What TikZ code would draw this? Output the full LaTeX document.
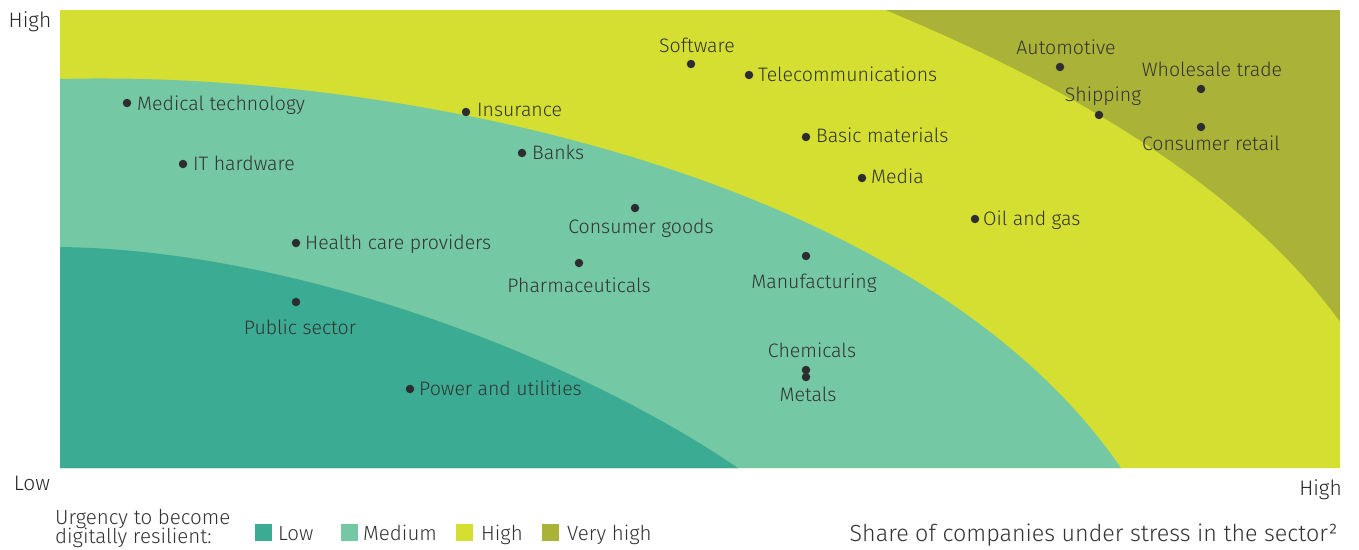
\documentclass[tikz,border=0pt]{standalone}
\usepackage{fontspec}
\setmainfont{Fira Sans Light}
\definecolor{cLow}{RGB}{59,172,147}
\definecolor{cMed}{RGB}{117,200,164}
\definecolor{cHigh}{RGB}{212,223,49}
\definecolor{cVHigh}{RGB}{170,179,56}
\definecolor{txt}{RGB}{50,50,50}
\definecolor{dotc}{RGB}{45,45,48}
\begin{document}
\begin{tikzpicture}[x=1pt,y=-1pt,
  pt/.style={circle,fill=dotc,inner sep=0pt,minimum size=8.5pt},
  lab/.style={inner sep=0pt,text=txt,font=\fontsize{19.5}{22}\selectfont},
  rlab/.style={lab,anchor=base west},
  clab/.style={lab,anchor=base},
  axlab/.style={inner sep=0pt,text=black!85,font=\fontsize{21}{24}\selectfont},
  leg/.style={inner sep=0pt,text=txt,font=\fontsize{20.5}{22}\selectfont,anchor=base west},
  sq/.style={minimum size=17pt,inner sep=0pt}]
\useasboundingbox (0,0) rectangle (1359,549);
% zones
\fill[cVHigh] (60,10) rectangle (1340,468);
\fill[cHigh] (60,468) -- (60,10) -- (885,10) .. controls (1030,70) and (1230,170) .. (1340,322) -- (1340,468) -- cycle;
\fill[cMed] (60,468) -- (60,79) .. controls (400,70) and (920,175) .. (1121,468) -- cycle;
\fill[cLow] (60,468) -- (60,247) .. controls (300,250) and (580,360) .. (738,468) -- cycle;
% points
\node[pt] (soft) at (691,64) {};
\node[clab] (softL) at (697,52) {Software};
\node[pt] (tele) at (749,75) {};
\node[rlab] (teleL) at (758,81) {Telecommunications};
\node[pt] (auto) at (1060,67) {};
\node[clab] (autoL) at (1066,54) {Automotive};
\node[pt] (whole) at (1201,89) {};
\node[clab] (wholeL) at (1212,76) {Wholesale trade};
\node[pt] (ship) at (1099,115) {};
\node[clab] (shipL) at (1103,101) {Shipping};
\node[pt] (cret) at (1201,127) {};
\node[clab] (cretL) at (1211,150) {Consumer retail};
\node[pt] (medt) at (127,103) {};
\node[rlab] (medtL) at (137,110) {Medical technology};
\node[pt] (ins) at (466,112) {};
\node[rlab] (insL) at (477,116) {Insurance};
\node[pt] (basic) at (806,137) {};
\node[rlab] (basicL) at (816,142) {Basic materials};
\node[pt] (ith) at (183,164) {};
\node[rlab] (ithL) at (193,170) {IT hardware};
\node[pt] (banks) at (522,153) {};
\node[rlab] (banksL) at (532,159) {Banks};
\node[pt] (media) at (862,178) {};
\node[rlab] (mediaL) at (871,183) {Media};
\node[pt] (cgood) at (635,208) {};
\node[clab] (cgoodL) at (641,233) {Consumer goods};
\node[pt] (oil) at (975,219) {};
\node[rlab] (oilL) at (983,225) {Oil and gas};
\node[pt] (hcp) at (296,243) {};
\node[rlab] (hcpL) at (305,249) {Health care providers};
\node[pt] (manu) at (806,256) {};
\node[clab] (manuL) at (814,288) {Manufacturing};
\node[pt] (pharm) at (579,263) {};
\node[clab] (pharmL) at (579,292) {Pharmaceuticals};
\node[pt] (pub) at (296,302) {};
\node[clab] (pubL) at (300,334) {Public sector};
\node[pt] (chem) at (806,370) {};
\node[clab] (chemL) at (812,357) {Chemicals};
\node[pt] (met) at (806,377) {};
\node[clab] (metL) at (808,401) {Metals};
\node[pt] (pow) at (410,389) {};
\node[rlab] (powL) at (419,395) {Power and utilities};
% axes labels
\node[axlab,anchor=base] (yhigh) at (30,27) {High};
\node[axlab,anchor=base] (xlow) at (32,490) {Low};
\node[axlab,anchor=base east] (xhigh) at (1342,495) {High};
% legend
\node[leg] (leg1) at (55,524) {Urgency to become};
\node[leg] (leg2) at (55,543) {digitally resilient:};
\node[sq,fill=cLow] (sqLow) at (263.5,532) {};
\node[leg] (lLow) at (278,540) {Low};
\node[sq,fill=cMed] (sqMed) at (349,532) {};
\node[leg] (lMed) at (363,540) {Medium};
\node[sq,fill=cHigh] (sqHigh) at (464,532) {};
\node[leg] (lHigh) at (481,540) {High};
\node[sq,fill=cVHigh] (sqVH) at (550.5,532) {};
\node[leg] (lVH) at (567,540) {Very high};
\node[inner sep=0pt,text=txt,font=\fontsize{23.3}{26}\selectfont,anchor=base east] (xtitle) at (1338,541) {Share of companies under stress in the sector²};
\end{tikzpicture}
\end{document}
